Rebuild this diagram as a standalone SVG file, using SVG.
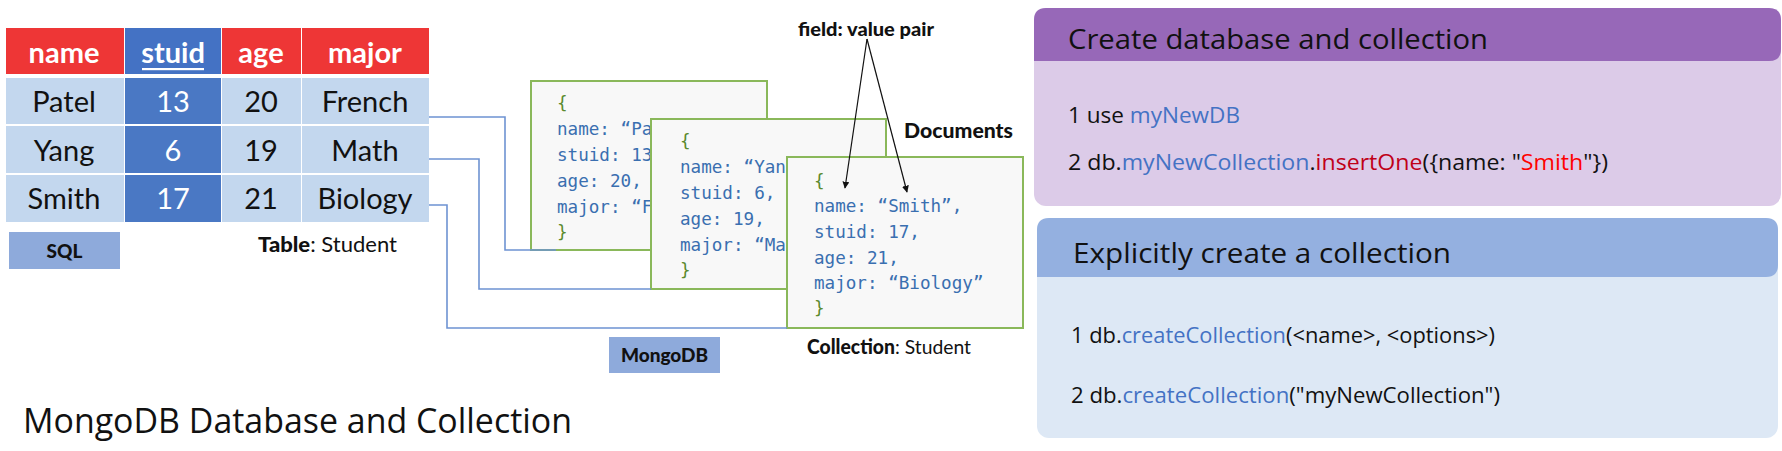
<svg xmlns="http://www.w3.org/2000/svg" width="1782" height="451" viewBox="0 0 1782 451">
<style>
.hd{font-family:Lato,"Open Sans",sans-serif;font-weight:bold;font-size:29px;fill:#fff;text-anchor:middle}
.cell{font-family:Lato,"Open Sans",sans-serif;font-size:29px;fill:#111;text-anchor:middle}
.cellw{font-family:Lato,"Open Sans",sans-serif;font-size:29px;fill:#fff;text-anchor:middle}
.lbl{font-family:Lato,"Open Sans",sans-serif;fill:#111}
.code{font-family:"DejaVu Sans Mono","Liberation Mono",monospace;font-size:17.6px;fill:#3a6fb0}
.br{fill:#5b8a2c}
.doc{fill:#f8f8f8;stroke:#8ab85a;stroke-width:2}
.conn{fill:none;stroke:#6e93d2;stroke-width:1.6}
.ptitle{font-family:"Open Sans","Noto Sans",sans-serif;font-size:27px;fill:#111}
.ptxt{font-family:"Open Sans","Noto Sans",sans-serif;font-size:21px;fill:#111}
.bl{fill:#4472c4}
.rd{fill:#c00018}
.rd2{fill:#ff0000}
.arr{stroke:#111;stroke-width:1.2;fill:none}
</style>
<defs>
<marker id="ah" viewBox="0 0 10 10" refX="9" refY="5" markerWidth="7" markerHeight="7" orient="auto" markerUnits="userSpaceOnUse">
<path d="M0,0 L10,5 L0,10 z" fill="#111"/>
</marker>
</defs>
<rect width="1782" height="451" fill="#fff"/>

<g id="table">
<rect x="6" y="28" width="118" height="46" fill="#ee3636"/>
<rect x="125" y="28" width="96" height="46" fill="#4472c4"/>
<rect x="222" y="28" width="79" height="46" fill="#ee3636"/>
<rect x="302" y="28" width="127" height="46" fill="#ee3636"/>
<g fill="#c3d7ee">
<rect x="6" y="78" width="118" height="46"/><rect x="222" y="78" width="79" height="46"/><rect x="302" y="78" width="127" height="46"/>
<rect x="6" y="126" width="118" height="47"/><rect x="222" y="126" width="79" height="47"/><rect x="302" y="126" width="127" height="47"/>
<rect x="6" y="175" width="118" height="47"/><rect x="222" y="175" width="79" height="47"/><rect x="302" y="175" width="127" height="47"/>
</g>
<g fill="#4a78c4">
<rect x="125" y="78" width="96" height="46"/><rect x="125" y="126" width="96" height="47"/><rect x="125" y="175" width="96" height="47"/>
</g>
<text class="hd" x="64" y="63">name</text>
<text class="hd" x="173" y="63">stuid</text>
<rect x="142" y="68" width="62" height="2.2" fill="#fff"/>
<text class="hd" x="261" y="63">age</text>
<text class="hd" x="365" y="63">major</text>
<text class="cell" x="64" y="112">Patel</text>
<text class="cellw" x="173" y="112">13</text>
<text class="cell" x="261" y="112">20</text>
<text class="cell" x="365" y="112">French</text>
<text class="cell" x="64" y="161">Yang</text>
<text class="cellw" x="173" y="161">6</text>
<text class="cell" x="261" y="161">19</text>
<text class="cell" x="365" y="161">Math</text>
<text class="cell" x="64" y="209">Smith</text>
<text class="cellw" x="173" y="209">17</text>
<text class="cell" x="261" y="209">21</text>
<text class="cell" x="365" y="209">Biology</text>
</g>

<g id="sql">
<rect x="9" y="232" width="111" height="37" fill="#8eaadb"/>
<text class="lbl" x="64.5" y="258" font-size="19" font-weight="900" text-anchor="middle">SQL</text>
</g>
<g id="table-label">
<text class="lbl" x="258" y="252" font-size="21" textLength="139" lengthAdjust="spacingAndGlyphs"><tspan font-weight="900">Table</tspan>: Student</text>
</g>

<g id="doc1">
<rect class="doc" x="531" y="81" width="236" height="169"/>
<text class="code br" x="557" y="109">{</text>
<text class="code" x="557" y="135">name: “Pa</text>
<text class="code" x="557" y="161">stuid: 13</text>
<text class="code" x="557" y="187">age: 20,</text>
<text class="code" x="557" y="213">major: “F</text>
<text class="code br" x="557" y="238">}</text>
</g>
<g id="doc2">
<rect class="doc" x="651" y="119" width="235" height="170"/>
<text class="code br" x="680" y="147">{</text>
<text class="code" x="680" y="173">name: “Yan</text>
<text class="code" x="680" y="199">stuid: 6,</text>
<text class="code" x="680" y="225">age: 19,</text>
<text class="code" x="680" y="251">major: “Ma</text>
<text class="code br" x="680" y="276">}</text>
</g>
<g id="doc3">
<rect class="doc" x="787" y="157" width="236" height="171"/>
<text class="code br" x="814" y="187">{</text>
<text class="code" x="814" y="212">name: “Smith”,</text>
<text class="code" x="814" y="238">stuid: 17,</text>
<text class="code" x="814" y="264">age: 21,</text>
<text class="code" x="814" y="289">major: “Biology”</text>
<text class="code br" x="814" y="314">}</text>
</g>

<g id="connectors">
<polyline class="conn" points="429,117 505,117 505,250 556,250"/>
<polyline class="conn" points="429,159 479,159 479,289 651,289"/>
<polyline class="conn" points="429,205 447,205 447,328 787,328"/>
<line class="arr" x1="867" y1="39" x2="845" y2="188" marker-end="url(#ah)"/>
<line class="arr" x1="867" y1="39" x2="907" y2="192" marker-end="url(#ah)"/>
</g>

<g id="field-label">
<text class="lbl" x="798" y="36" font-size="18" font-weight="900" textLength="136" lengthAdjust="spacingAndGlyphs">field: value pair</text>
</g>
<g id="documents-label">
<text class="lbl" x="904" y="138" font-size="20" font-weight="900" textLength="109" lengthAdjust="spacingAndGlyphs">Documents</text>
</g>
<g id="collection-label">
<text class="lbl" x="807" y="354" font-size="20" textLength="164" lengthAdjust="spacingAndGlyphs"><tspan font-weight="900">Collection</tspan>: Student</text>
</g>
<g id="mongodb">
<rect x="609" y="337" width="111" height="36" fill="#8eaadb"/>
<text class="lbl" x="664.5" y="362" font-size="19" font-weight="900" text-anchor="middle">MongoDB</text>
</g>

<g id="title">
<text x="23" y="433" font-family="'Open Sans','Noto Sans',sans-serif" font-size="34" fill="#111" textLength="549" lengthAdjust="spacingAndGlyphs">MongoDB Database and Collection</text>
</g>

<g id="panel-create">
<rect x="1034" y="8" width="747" height="198" rx="12" fill="#dccbe8"/>
<path d="M1034,61 V20 Q1034,8 1046,8 H1769 Q1781,8 1781,20 V49 Q1781,61 1769,61 Z" fill="#9768b8"/>
<text class="ptitle" x="1068" y="49" textLength="420" lengthAdjust="spacingAndGlyphs">Create database and collection</text>
<text class="ptxt" x="1068" y="123" textLength="172" lengthAdjust="spacingAndGlyphs">1 use <tspan class="bl">myNewDB</tspan></text>
<text class="ptxt" x="1068" y="170" textLength="540" lengthAdjust="spacingAndGlyphs">2 db.<tspan class="bl">myNewCollection</tspan>.<tspan class="rd">insertOne</tspan>({name: "<tspan class="rd2">Smith</tspan>"})</text>
</g>

<g id="panel-explicit">
<rect x="1037" y="218" width="741" height="220" rx="12" fill="#dde8f5"/>
<path d="M1037,277 V230 Q1037,218 1049,218 H1766 Q1778,218 1778,230 V265 Q1778,277 1766,277 Z" fill="#94b0e0"/>
<text class="ptitle" x="1073" y="263" textLength="378" lengthAdjust="spacingAndGlyphs">Explicitly create a collection</text>
<text class="ptxt" x="1071" y="343" textLength="424" lengthAdjust="spacingAndGlyphs">1 db.<tspan class="bl">createCollection</tspan>(&lt;name&gt;, &lt;options&gt;)</text>
<text class="ptxt" x="1071" y="403" textLength="429" lengthAdjust="spacingAndGlyphs">2 db.<tspan class="bl">createCollection</tspan>("myNewCollection")</text>
</g>
</svg>
